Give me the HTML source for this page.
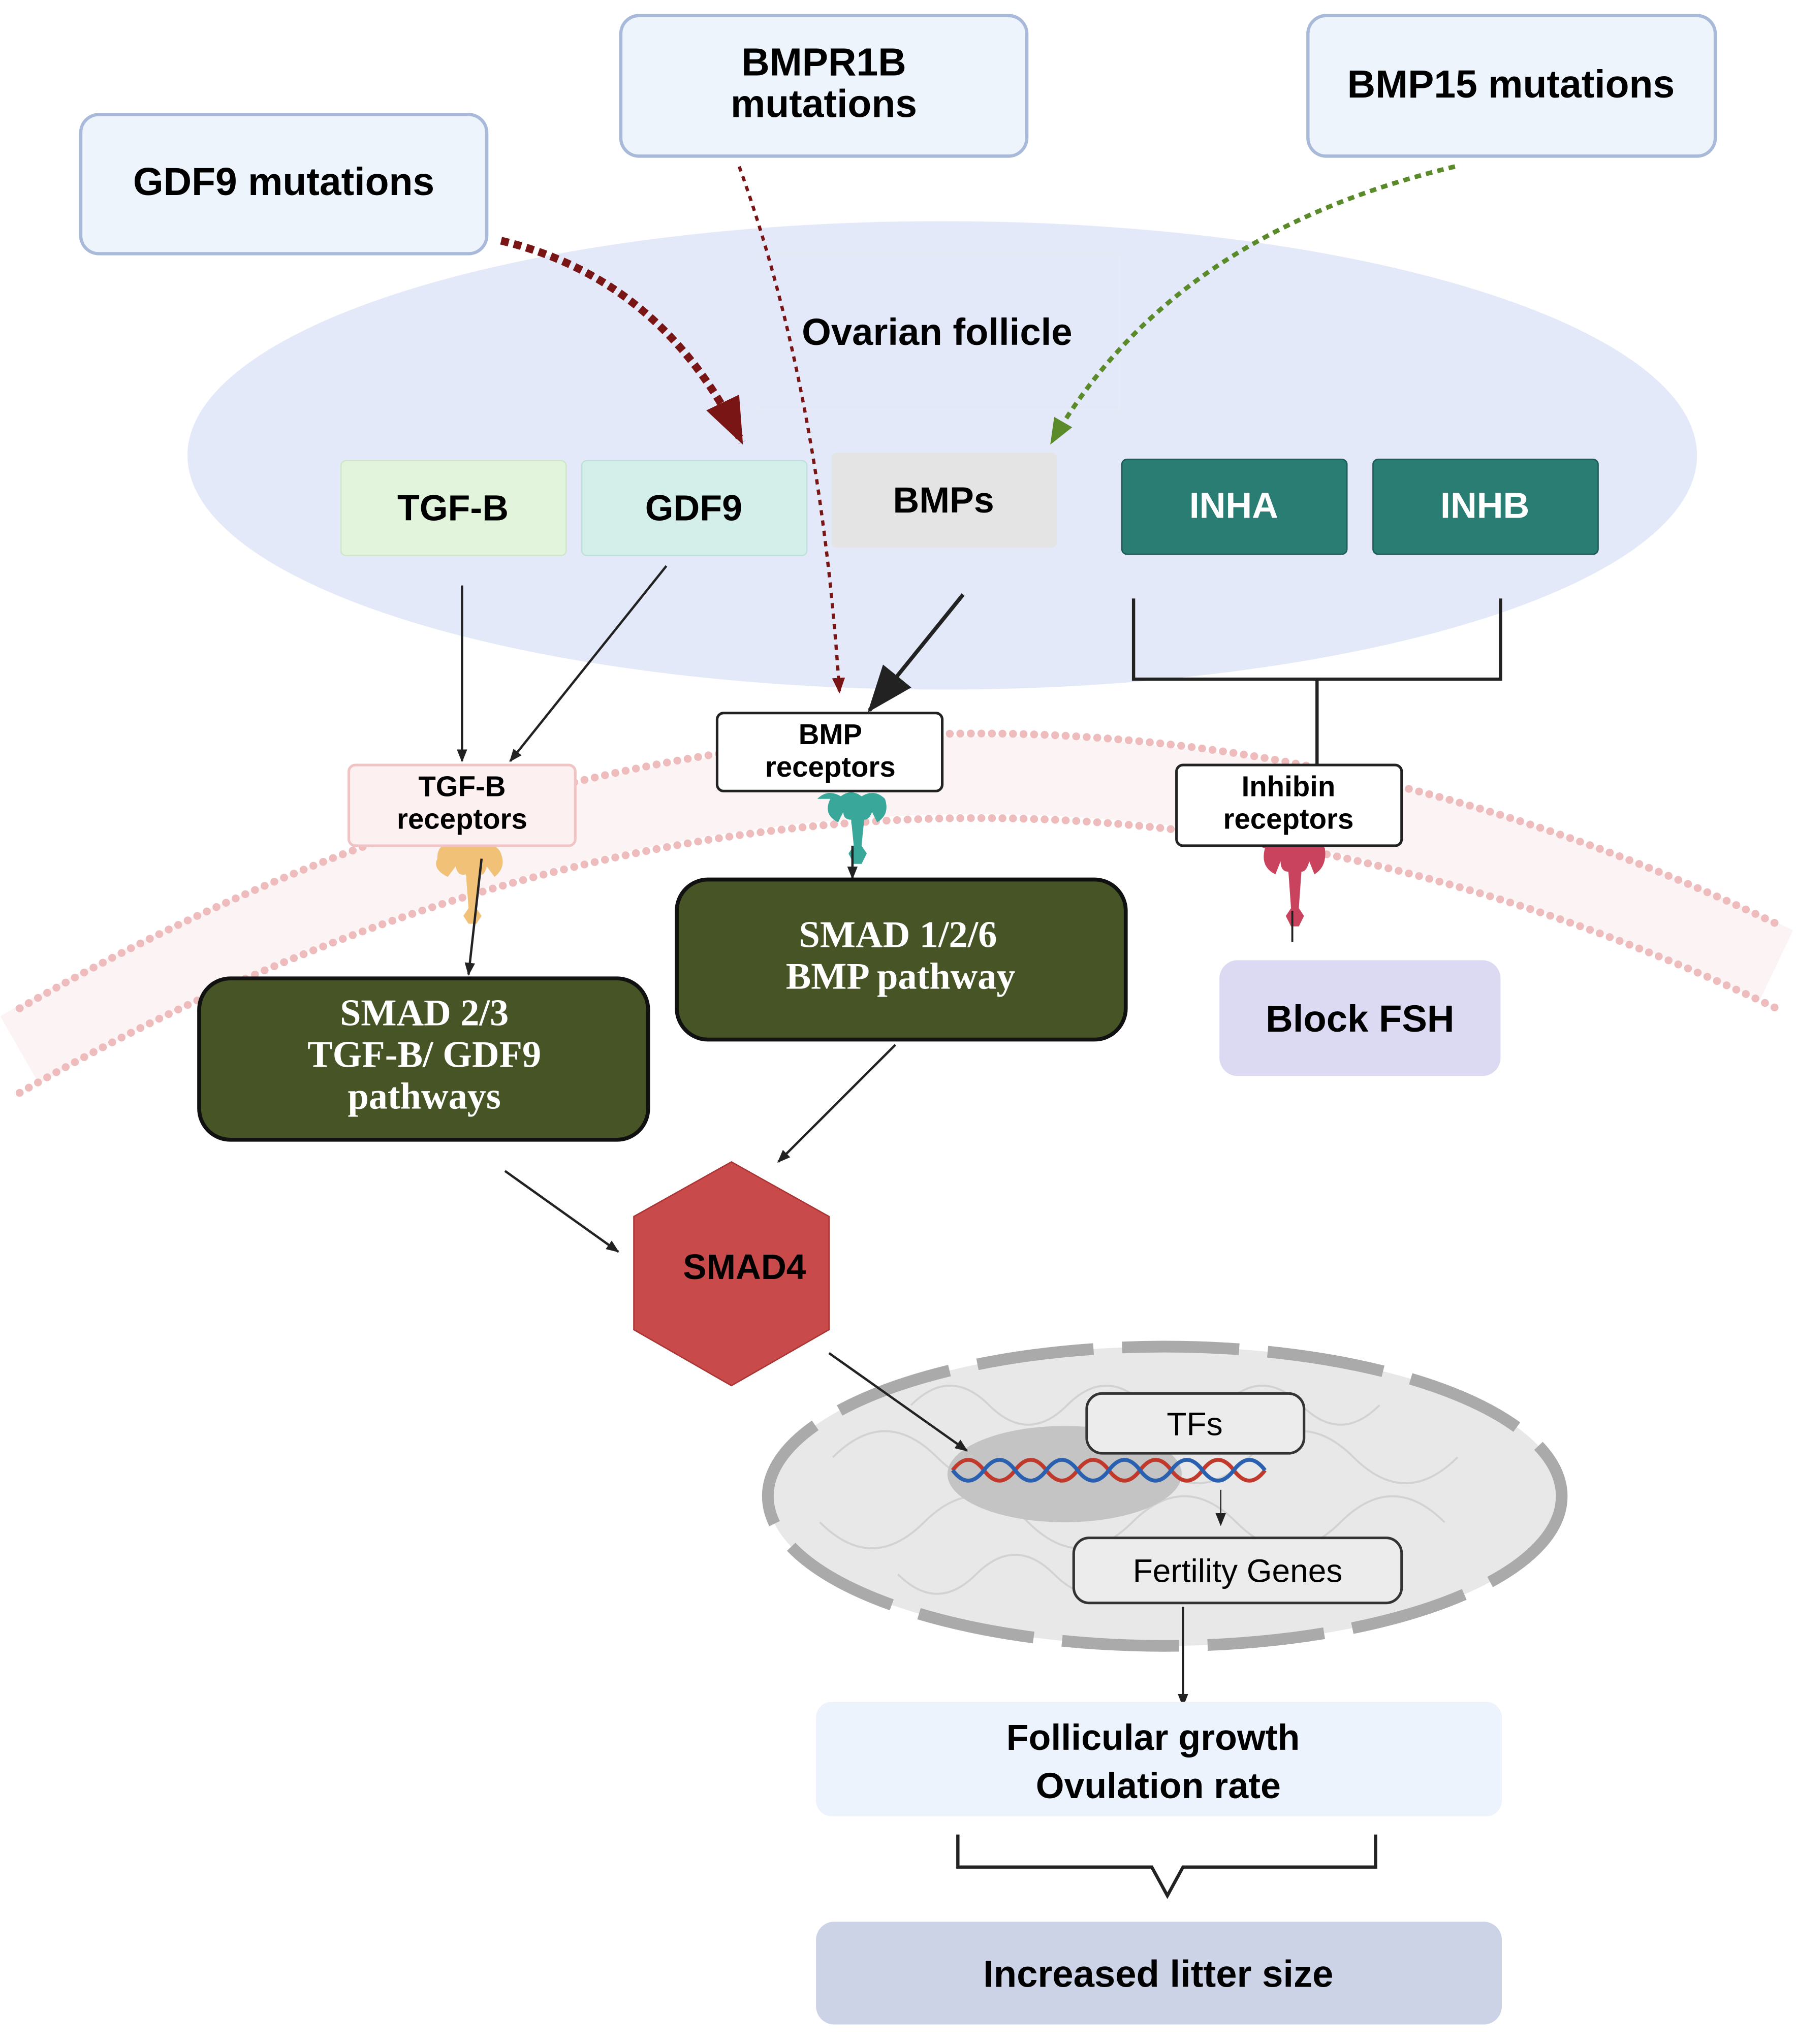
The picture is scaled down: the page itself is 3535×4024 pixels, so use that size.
<!DOCTYPE html>
<html><head><meta charset="utf-8"><style>
html,body{margin:0;padding:0;background:#fff}
svg{display:block}
.s{font-family:"Liberation Sans",sans-serif;font-weight:bold}
.r{font-family:"Liberation Serif",serif;font-weight:bold;fill:#fff}
</style></head><body>
<svg width="3535" height="4024" viewBox="0 0 1380 1571" xmlns="http://www.w3.org/2000/svg">
<defs>
<marker id="a" markerWidth="10" markerHeight="10" refX="9" refY="5" orient="auto" markerUnits="userSpaceOnUse"><path d="M0,1 L10,5 L0,9 Z" fill="#222"/></marker>
<marker id="big" markerWidth="36" markerHeight="36" refX="34" refY="18" orient="auto" markerUnits="userSpaceOnUse"><path d="M0,4 L36,18 L0,32 Z" fill="#222"/></marker>
<marker id="red" markerWidth="36" markerHeight="36" refX="34" refY="18" orient="auto" markerUnits="userSpaceOnUse"><path d="M0,4 L36,18 L0,32 Z" fill="#7a1515"/></marker>
<marker id="red2" markerWidth="12" markerHeight="12" refX="11" refY="6" orient="auto" markerUnits="userSpaceOnUse"><path d="M0,1 L12,6 L0,11 Z" fill="#7a1515"/></marker>
<marker id="grn" markerWidth="20" markerHeight="20" refX="18" refY="10" orient="auto" markerUnits="userSpaceOnUse"><path d="M0,2 L20,10 L0,18 Z" fill="#5a8a2a"/></marker>
</defs>
<ellipse cx="724" cy="350" rx="580" ry="180" fill="#e3e9f8"/>
<rect x="582" y="195" width="278" height="120" fill="none" stroke="#e6eaf4"/>
<text x="720" y="265" class="s" font-size="29" text-anchor="middle">Ovarian follicle</text>
<!-- membrane -->
<path d="M15,807 Q690,420 1365,742" fill="none" stroke="#f6dada" stroke-width="60" opacity="0.3"/>
<path d="M15,775 Q690,388 1365,710" fill="none" stroke="#eebcbc" stroke-width="6" stroke-dasharray="0.1 8" stroke-linecap="round"/>
<path d="M15,840 Q690,453 1365,775" fill="none" stroke="#eebcbc" stroke-width="6" stroke-dasharray="0.1 8" stroke-linecap="round"/>
<!-- mutation boxes -->
<rect x="62" y="88" width="312" height="107" rx="14" fill="#eef4fc" stroke="#a9b9d9" stroke-width="2.5"/>
<text x="218" y="150" class="s" font-size="30" text-anchor="middle">GDF9 mutations</text>
<rect x="477" y="12" width="312" height="108" rx="14" fill="#eef4fc" stroke="#a9b9d9" stroke-width="2.5"/>
<text x="633" y="58" class="s" font-size="30" text-anchor="middle">BMPR1B</text>
<text x="633" y="90" class="s" font-size="30" text-anchor="middle">mutations</text>
<rect x="1005" y="12" width="313" height="108" rx="14" fill="#eef4fc" stroke="#a9b9d9" stroke-width="2.5"/>
<text x="1161" y="75" class="s" font-size="30" text-anchor="middle">BMP15 mutations</text>
<!-- ligands -->
<rect x="262" y="354" width="173" height="73" rx="4" fill="#e2f5dc" stroke="#cfe6c8"/>
<text x="348" y="400" class="s" font-size="28" text-anchor="middle">TGF-B</text>
<rect x="447" y="354" width="173" height="73" rx="4" fill="#d4eeea" stroke="#c0e0dc"/>
<text x="533" y="400" class="s" font-size="28" text-anchor="middle">GDF9</text>
<rect x="639" y="348" width="173" height="73" rx="4" fill="#e4e4e4"/>
<text x="725" y="394" class="s" font-size="28" text-anchor="middle">BMPs</text>
<rect x="862" y="353" width="173" height="73" rx="4" fill="#2a7d72" stroke="#1d5c54"/>
<text x="948" y="398" class="s" font-size="28" fill="#fff" text-anchor="middle">INHA</text>
<rect x="1055" y="353" width="173" height="73" rx="4" fill="#2a7d72" stroke="#1d5c54"/>
<text x="1141" y="398" class="s" font-size="28" fill="#fff" text-anchor="middle">INHB</text>
<path d="M871,460 V522 H1153 V460 M1012,522 V588" fill="none" stroke="#222" stroke-width="2.5"/>
<!-- mutation arrows -->
<path d="M385,185 Q510,215 570,340" fill="none" stroke="#7a1515" stroke-width="6" stroke-dasharray="6 4" marker-end="url(#red)"/>
<path d="M568,128 Q630,300 645,532" fill="none" stroke="#7a1515" stroke-width="2.5" stroke-dasharray="4 4" marker-end="url(#red2)"/>
<path d="M1118,128 Q900,180 808,340" fill="none" stroke="#5a8a2a" stroke-width="3.5" stroke-dasharray="5 4" marker-end="url(#grn)"/>
<!-- ligand arrows -->
<line x1="355" y1="450" x2="355" y2="585" stroke="#222" stroke-width="1.8" marker-end="url(#a)"/>
<line x1="512" y1="435" x2="392" y2="585" stroke="#222" stroke-width="1.8" marker-end="url(#a)"/>
<line x1="740" y1="457" x2="668" y2="546" stroke="#222" stroke-width="3" marker-end="url(#big)"/>
<!-- receptors -->
<g fill="#f2c178"><path d="M336,660 q0,-14 14,-10 q8,-4 14,0 q12,-6 20,4 q6,12 -4,20 l-6,-8 q-2,8 -6,6 l-2,26 l4,6 l-4,6 h-6 l-4,-6 l4,-6 l-2,-26 q-6,2 -8,-6 l-6,8 q-12,-6 -8,-14z"/></g>
<g fill="#3aa79b"><path d="M628,614 q8,-8 18,-2 q8,-6 16,0 q10,-6 18,2 q4,12 -6,18 l-4,-8 q-2,6 -6,6 l-2,20 l4,6 l-4,8 h-6 l-4,-8 l4,-6 l-2,-20 q-6,0 -6,-6 l-4,8 q-12,-6 -6,-18z"/></g>
<g fill="#c9435e"><path d="M966,650 q10,-8 18,-2 q8,-6 16,0 q12,-6 18,4 q2,14 -8,20 l-4,-10 q-2,8 -6,8 l-2,28 l4,6 l-4,8 h-6 l-4,-8 l4,-6 l-2,-28 q-6,0 -6,-8 l-4,10 q-12,-6 -8,-20z"/></g>
<line x1="993" y1="700" x2="993" y2="724" stroke="#222" stroke-width="1.5"/>
<rect x="268" y="588" width="174" height="62" rx="5" fill="#fdf0f0" stroke="#f0c4c4" stroke-width="2"/>
<text x="355" y="612" class="s" font-size="22" text-anchor="middle">TGF-B</text>
<text x="355" y="637" class="s" font-size="22" text-anchor="middle">receptors</text>
<rect x="551" y="548" width="173" height="60" rx="5" fill="#fff" stroke="#222" stroke-width="2"/>
<text x="638" y="572" class="s" font-size="22" text-anchor="middle">BMP</text>
<text x="638" y="597" class="s" font-size="22" text-anchor="middle">receptors</text>
<rect x="904" y="588" width="173" height="62" rx="5" fill="#fff" stroke="#222" stroke-width="2"/>
<text x="990" y="612" class="s" font-size="22" text-anchor="middle">Inhibin</text>
<text x="990" y="637" class="s" font-size="22" text-anchor="middle">receptors</text>
<line x1="655" y1="650" x2="655" y2="675" stroke="#222" stroke-width="1.8" marker-end="url(#a)"/>
<line x1="370" y1="660" x2="360" y2="749" stroke="#222" stroke-width="1.8" marker-end="url(#a)"/>
<!-- SMAD boxes -->
<rect x="153" y="752" width="345" height="124" rx="24" fill="#475425" stroke="#111" stroke-width="3"/>
<text x="326" y="788" class="r" font-size="29" text-anchor="middle">SMAD 2/3</text>
<text x="326" y="820" class="r" font-size="29" text-anchor="middle">TGF-B/ GDF9</text>
<text x="326" y="852" class="r" font-size="29" text-anchor="middle">pathways</text>
<rect x="520" y="676" width="345" height="123" rx="24" fill="#475425" stroke="#111" stroke-width="3"/>
<text x="690" y="728" class="r" font-size="29" text-anchor="middle">SMAD 1/2/6</text>
<text x="692" y="760" class="r" font-size="29" text-anchor="middle">BMP pathway</text>
<rect x="937" y="738" width="216" height="89" rx="14" fill="#dcdaf2"/>
<text x="1045" y="793" class="s" font-size="29" text-anchor="middle">Block FSH</text>
<line x1="688" y1="803" x2="598" y2="893" stroke="#222" stroke-width="1.8" marker-end="url(#a)"/>
<line x1="388" y1="900" x2="475" y2="962" stroke="#222" stroke-width="1.8" marker-end="url(#a)"/>
<!-- SMAD4 -->
<polygon points="562,893 637,935 637,1022 562,1065 487,1022 487,935" fill="#c94a4a" stroke="#a33"/>
<text x="572" y="983" class="s" font-size="27" text-anchor="middle">SMAD4</text>
<!-- nucleus -->
<ellipse cx="895" cy="1150" rx="305" ry="115" fill="#e8e8e8"/>
<ellipse cx="895" cy="1150" rx="305" ry="115" fill="none" stroke="#aaa" stroke-width="9" stroke-dasharray="90 22"/>
<g fill="none" stroke="#d2d2d2" stroke-width="1.5">
<path d="M640,1120 q40,-40 80,0 t80,0 t80,0 t80,0 t80,0 t80,0"/>
<path d="M630,1170 q40,40 80,0 t80,0 t80,0 t80,0 t80,0 t80,0"/>
<path d="M700,1080 q30,-30 60,0 t60,0 t60,0 t60,0 t60,0 t60,0"/>
<path d="M690,1210 q30,30 60,0 t60,0 t60,0 t60,0 t60,0 t60,0"/>
</g>
<ellipse cx="818" cy="1133" rx="90" ry="37" fill="#c4c4c4"/>
<path d="M732,1130 q12,-16 24,0 t24,0 t24,0 t24,0 t24,0 t24,0 t24,0 t24,0 t24,0 t24,0" fill="none" stroke="#c0392b" stroke-width="3"/>
<path d="M732,1130 q12,16 24,0 t24,0 t24,0 t24,0 t24,0 t24,0 t24,0 t24,0 t24,0 t24,0" fill="none" stroke="#2a60b0" stroke-width="3"/>
<line x1="637" y1="1040" x2="743" y2="1115" stroke="#222" stroke-width="1.8" marker-end="url(#a)"/>
<rect x="835" y="1071" width="167" height="46" rx="12" fill="#ececec" stroke="#333" stroke-width="2"/>
<text x="918" y="1103" font-family="Liberation Sans,sans-serif" font-size="25" text-anchor="middle">TFs</text>
<line x1="938" y1="1145" x2="938" y2="1172" stroke="#222" stroke-width="1" marker-end="url(#a)"/>
<rect x="825" y="1182" width="252" height="50" rx="12" fill="#ececec" stroke="#333" stroke-width="2"/>
<text x="951" y="1216" font-family="Liberation Sans,sans-serif" font-size="25" text-anchor="middle">Fertility Genes</text>
<line x1="909" y1="1235" x2="909" y2="1311" stroke="#222" stroke-width="1.8" marker-end="url(#a)"/>
<!-- outputs -->
<rect x="627" y="1308" width="527" height="88" rx="12" fill="#edf3fc"/>
<text x="886" y="1345" class="s" font-size="28" text-anchor="middle">Follicular growth</text>
<text x="890" y="1382" class="s" font-size="28" text-anchor="middle">Ovulation rate</text>
<path d="M736,1410 V1435 H885 L897,1457 L909,1435 H1057 V1410" fill="none" stroke="#222" stroke-width="2.5"/>
<rect x="627" y="1477" width="527" height="79" rx="14" fill="#ccd3e6"/>
<text x="890" y="1527" class="s" font-size="29" text-anchor="middle">Increased litter size</text>
</svg>
</body></html>
